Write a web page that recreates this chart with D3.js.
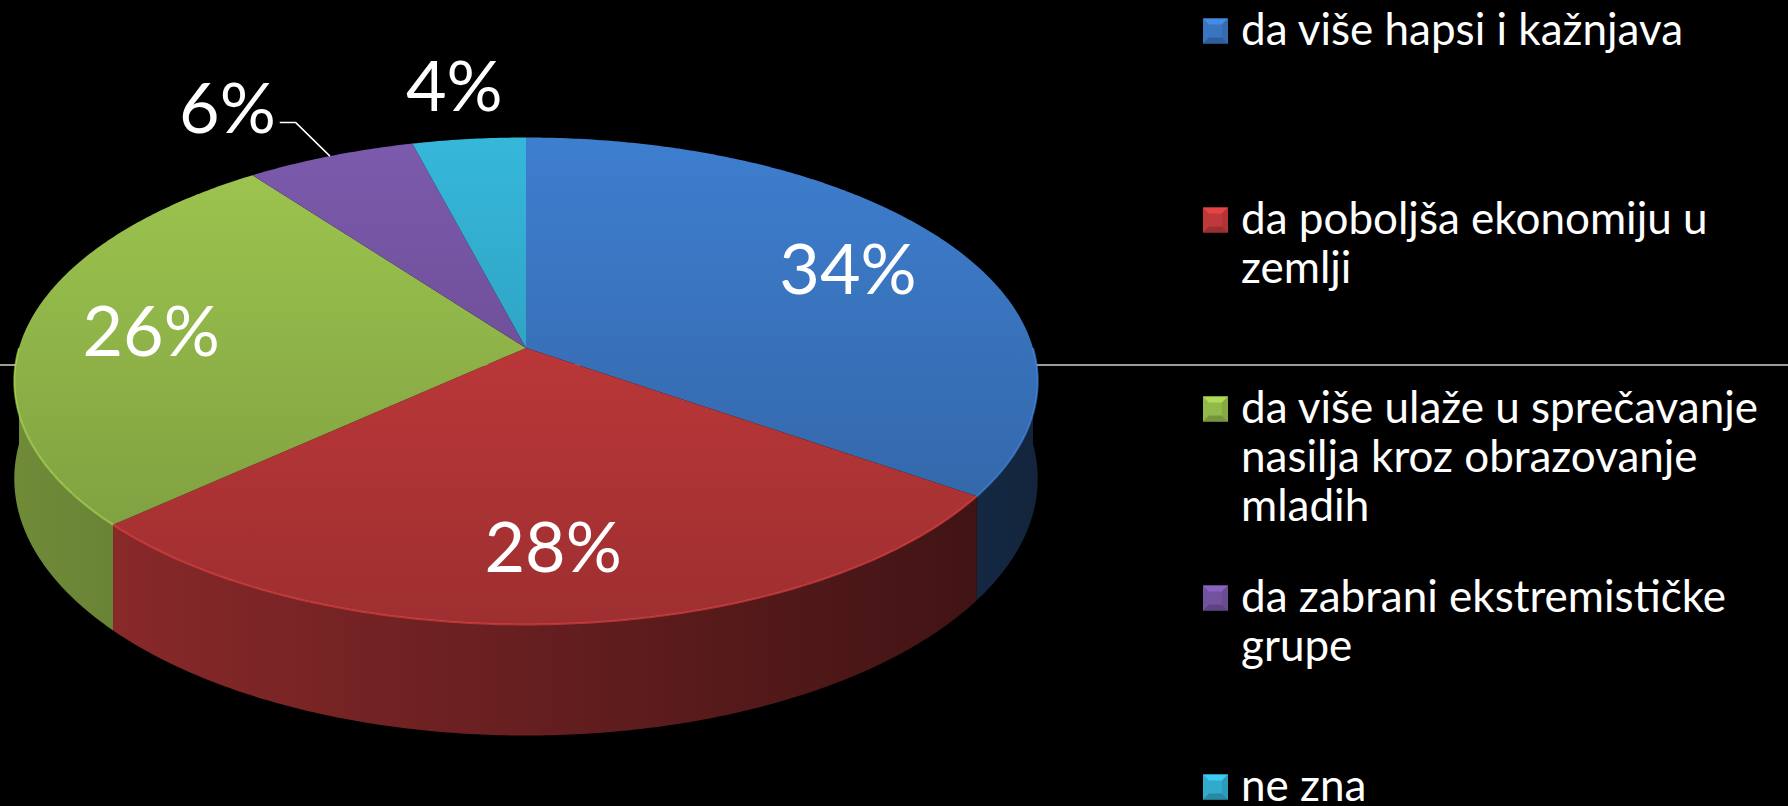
<!DOCTYPE html>
<html>
<head>
<meta charset="utf-8">
<script src="https://cdn.jsdelivr.net/npm/d3@7"></script>
<style>
  html, body { margin: 0; padding: 0; background: #000; overflow: hidden; }
  text { font-family: Lato, "Noto Sans", sans-serif; fill: #fff; }
</style>
</head>
<body>
<div id="chart"></div>
<script>
// Data
const categories = [
  'da više hapsi i kažnjava',
  'da poboljša ekonomiju u zemlji',
  'da više ulaže u sprečavanje nasilja kroz obrazovanje mladih',
  'da zabrani ekstremističke grupe',
  'ne zna'
]
const values = [34, 28, 26, 6, 4]
const colors = ['#3a75c0', '#c0393a', '#93b94a', '#7353a0', '#31aacb']

function draw() {
  // Dimensions
  const dimensions = { width: 1788, height: 806 }
  const pie3d = { cx: 526, cy: 348, rx: 507, ry: 239, depth: 96, persp: 0.1355 }
  const legend = { x: 1203, top: 31, bottom: 787, box: 25, gap: 13, font: 44, lineHeight: 49, maxWidth: 540 }

  const svg = d3.select('#chart')
    .append('svg')
    .attr('width', dimensions.width)
    .attr('height', dimensions.height)

  svg.append('rect')
    .attr('width', dimensions.width)
    .attr('height', dimensions.height)
    .attr('fill', '#000')

  // angle: d3.pie convention (0 = 12 o'clock, clockwise). r: fraction of radius, h: depth offset
  const project = (angle, r, h) => {
    const u = Math.sin(angle) * r
    const v = -Math.cos(angle) * r
    const k = 1 / (1 - pie3d.persp * v)
    return [pie3d.cx + pie3d.rx * u * k, pie3d.cy + (pie3d.ry * v + h) * k]
  }
  const arcPoints = (a0, a1, r, h) => {
    const n = Math.max(2, Math.ceil(Math.abs(a1 - a0) / 0.01))
    return d3.range(n + 1).map(i => project(a0 + (a1 - a0) * i / n, r, h))
  }
  const line = d3.line()

  // Scales
  const colorScale = d3.scaleOrdinal().domain(categories).range(colors)
  const arcs = d3.pie().sort(null).value(d => d.value)(
    categories.map((c, i) => ({ name: c, value: values[i] }))
  )

  // gradients
  const defs = svg.append('defs')
  categories.forEach((c, i) => {
    const base = d3.color(colorScale(c))
    const top = defs.append('linearGradient')
      .attr('id', 'top' + i)
      .attr('gradientUnits', 'userSpaceOnUse')
      .attr('x1', 0).attr('x2', 0)
      .attr('y1', pie3d.cy - pie3d.ry).attr('y2', pie3d.cy + pie3d.ry * 1.16)
    top.append('stop').attr('offset', 0).attr('stop-color', base.brighter(0.25))
    top.append('stop').attr('offset', 1).attr('stop-color', base.darker(0.55))

    const side = defs.append('linearGradient')
      .attr('id', 'side' + i)
      .attr('gradientUnits', 'userSpaceOnUse')
      .attr('y1', 0).attr('y2', 0)
      .attr('x1', pie3d.cx - pie3d.rx).attr('x2', pie3d.cx + pie3d.rx)
    side.append('stop').attr('offset', 0).attr('stop-color', base.darker(0.8))
    side.append('stop').attr('offset', 1).attr('stop-color', base.darker(3.2))
  })

  // horizontal rule behind the chart
  svg.append('line')
    .attr('x1', 0).attr('x2', dimensions.width)
    .attr('y1', 365).attr('y2', 365)
    .attr('stroke', '#cfcfcf')
    .attr('stroke-width', 1.5)

  const ctr = svg.append('g')
  const front = d => d.endAngle > Math.PI / 2 && d.startAngle < Math.PI * 1.5

  // sides (front half only)
  ctr.append('g').selectAll('path')
    .data(arcs.filter(front))
    .join('path')
    .attr('fill', d => `url(#side${d.index})`)
    .attr('d', d => {
      const a0 = Math.max(d.startAngle, Math.PI / 2)
      const a1 = Math.min(d.endAngle, Math.PI * 1.5)
      const pts = arcPoints(a0, a1, 1, 0).concat(arcPoints(a1, a0, 1, pie3d.depth))
      return line(pts) + 'Z'
    })

  // top faces
  ctr.append('g').selectAll('path')
    .data(arcs)
    .join('path')
    .attr('fill', d => `url(#top${d.index})`)
    .attr('d', d => line([[pie3d.cx, pie3d.cy]].concat(arcPoints(d.startAngle, d.endAngle, 1, 0))) + 'Z')

  // light bevel on front rim
  ctr.append('g').selectAll('path')
    .data(arcs.filter(front))
    .join('path')
    .attr('fill', 'none')
    .attr('stroke', d => d3.color(colorScale(d.data.name)).brighter(0.7))
    .attr('stroke-opacity', 0.55)
    .attr('stroke-width', 2)
    .attr('d', d => line(arcPoints(Math.max(d.startAngle, Math.PI / 2), Math.min(d.endAngle, Math.PI * 1.5), 1, 0)))

  // data labels
  const labels = ctr.append('g')
  arcs.forEach(d => {
    const mid = (d.startAngle + d.endAngle) / 2
    const inside = d.value >= 10
    const withLeader = !inside && Math.abs(Math.sin(mid)) > 0.3
    const t = labels.append('text')
      .attr('dy', '0.36em')
      .attr('font-size', 70)
      .text(d.value + '%')
    if (withLeader) {
      // leader: rim -> elbow -> short horizontal -> label
      const rim = project(mid, 1, 0)
      const elbow = project(mid, 1.2, 0)
      const end = [elbow[0] - 16, elbow[1]]
      t.attr('x', end[0] - 4).attr('y', elbow[1] - 15).attr('text-anchor', 'end')
      labels.append('path')
        .attr('fill', 'none')
        .attr('stroke', '#fff')
        .attr('stroke-width', 1.5)
        .attr('d', line([end, elbow, rim]))
    } else {
      const [x, y] = project(mid, inside ? 0.75 : 1.3, 0)
      t.attr('x', x).attr('y', y).attr('text-anchor', 'middle')
    }
  })

  // legend
  const yLegend = d3.scalePoint().domain(categories).range([legend.top, legend.bottom])
  const items = svg.append('g').selectAll('g')
    .data(categories)
    .join('g')
    .attr('transform', d => `translate(${legend.x}, ${yLegend(d)})`)

  items.each(function(d) {
    const g = d3.select(this)
    const c = d3.color(colorScale(d))
    const s = legend.box, b = 6, h = s / 2
    g.append('rect').attr('x', 0).attr('y', -h).attr('width', s).attr('height', s).attr('fill', c)
    g.append('path').attr('fill', c.brighter(0.5))
      .attr('d', line([[0, -h], [s, -h], [s - b, -h + b], [b, -h + b]]) + 'Z')
    g.append('path').attr('fill', c.darker(0.6))
      .attr('d', line([[0, h], [s, h], [s - b, h - b], [b, h - b]]) + 'Z')
    g.append('path').attr('fill', c.darker(0.25))
      .attr('d', line([[s, -h], [s, h], [s - b, h - b], [s - b, -h + b]]) + 'Z')
  })

  items.append('text')
    .attr('x', legend.box + legend.gap)
    .attr('y', 14)
    .attr('font-size', legend.font)
    .text(d => d)
    .each(function() {
      const t = d3.select(this)
      const words = t.text().split(/\s+/)
      t.text(null)
      let cur = []
      let tspan = t.append('tspan').attr('x', legend.box + legend.gap).attr('dy', 0)
      words.forEach(w => {
        cur.push(w)
        tspan.text(cur.join(' '))
        if (tspan.node().getComputedTextLength() > legend.maxWidth && cur.length > 1) {
          cur.pop()
          tspan.text(cur.join(' '))
          cur = [w]
          tspan = t.append('tspan').attr('x', legend.box + legend.gap).attr('dy', legend.lineHeight).text(w)
        }
      })
    })
}
draw()
</script>
</body>
</html>
